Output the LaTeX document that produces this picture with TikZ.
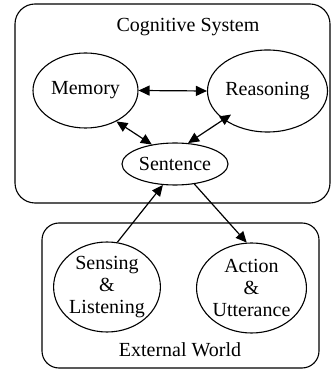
\documentclass[tikz,border=0pt]{standalone}
\usepackage{fontspec}
\setmainfont{Liberation Serif}
\usetikzlibrary{shapes.geometric,arrows.meta}

\begin{document}
\begin{tikzpicture}[x=1pt,y=1pt,
  every node/.style={font=\fontsize{20}{22}\selectfont},
  bubble/.style={ellipse,draw,line width=1.1pt,inner sep=0pt,align=center},
  world/.style={draw,line width=1.1pt,inner sep=0pt},
  link/.style={line width=1.2pt,{Triangle[length=11pt,width=10pt]}-{Triangle[length=11pt,width=10pt]}},
  flow/.style={line width=1.2pt,-{Triangle[length=11pt,width=10pt]}}]
  \useasboundingbox (0,0) rectangle (334,372);
  % the two frames
  \node[world,rounded corners=20pt,minimum width=315pt,minimum height=199pt] (cog) at (172.5,268.5) {};
  \node[world,rounded corners=17pt,minimum width=277pt,minimum height=145pt] (ext) at (180.5,76.5) {};
  \node (cogtitle) at (188,345) {Cognitive System};
  \node (exttitle) at (180,22) {External World};
  % inside
  \node[bubble,minimum width=105pt,minimum height=75pt] (mem) at (85.5,281.5) {Memory};
  \node[bubble,minimum width=120pt,minimum height=82pt] (rea) at (267.5,281) {Reasoning};
  \node[bubble,minimum width=106pt,minimum height=42pt] (sen) at (175,208) {Sentence};
  % outside
  \node[bubble,minimum width=100pt,minimum height=90pt] (sense) at (107,85) {Sensing\\\&\\Listening};
  \node[bubble,minimum width=106pt,minimum height=90pt] (act) at (251.5,84) {Action\\\&\\Utterance};
  \draw[link] (mem.east) -- (rea.west);
  \draw[link] (mem.-45) -- (sen.140);
  \draw[link,shorten <=-9pt] (rea.213) -- (sen.58);
  \draw[flow] (sense.77) -- (sen.240);
  \draw[flow] (sen.-46) -- (act.96);
\end{tikzpicture}
\end{document}
